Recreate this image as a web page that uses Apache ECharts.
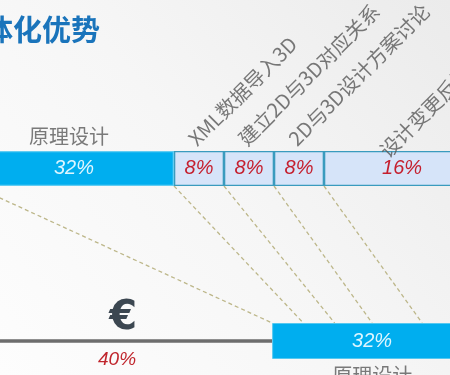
<!DOCTYPE html>
<html><head><meta charset="utf-8">
<script src="https://cdn.jsdelivr.net/npm/echarts@6/dist/echarts.min.js"></script>
<style>html,body{margin:0;padding:0;width:450px;height:375px;overflow:hidden;}#c{width:450px;height:375px;}</style>
</head><body><div id="c"></div>
<script>
// ---- data ----
const titleText = '体化优势';
const topTasks = ['原理设计', 'XML数据导入3D', '建立2D与3D对应关系', '2D与3D设计方案讨论', '设计变更反馈'];
const topPct = [32, 8, 8, 8, 16];
const topSpan = [32, 8, 8, 8, 25];          // drawn lengths on the schematic scale
const bottomTasks = ['€', '原理设计'];
const bottomPct = [40, 32];
const bottomSpan = [47.7, 32];              // drawn lengths on the schematic scale
const anchorOffsets = [0, 5, 10, 16, 24];   // where each connector meets the bottom bar
const rotLabelShift = [0, 0, 0, 0, -17];

// ---- build ----
const xMin = 4.16, xMax = 76.16;
const FONT = '"Noto Sans CJK SC", "Noto Sans", sans-serif';
const NUMFONT = '"Liberation Sans", Arial, sans-serif';
const topStart = [];
let acc = 0;
topSpan.forEach(v => { topStart.push(acc); acc += v; });

const grids = [
  { left: 0, right: 0, top: 151, height: 35 },
  { left: 0, right: 0, top: 323, height: 36 },
  { left: 0, right: 0, top: 339, height: 4 },
  { left: 0, right: 0, top: 186, height: 137 }
];
const xAxes = grids.map((g, i) => ({ gridIndex: i, type: 'value', min: xMin, max: xMax, show: false }));
const yAxes = [0, 1, 2].map(i => ({ gridIndex: i, type: 'category', data: ['r'], show: false }));
yAxes.push({ gridIndex: 3, type: 'value', min: 0, max: 1, show: false });

const series = [];
// connectors
topStart.forEach((s, i) => {
  series.push({
    type: 'line', xAxisIndex: 3, yAxisIndex: 3, symbol: 'none', silent: true, z: 1,
    data: [[s, 1], [bottomSpan[0] + anchorOffsets[i], 0]],
    lineStyle: { color: '#bdb78a', width: 1.3, type: [4, 3] }
  });
});
// top stacked bar
topSpan.forEach((v, i) => {
  const main = i === 0;
  series.push({
    type: 'bar', xAxisIndex: 0, yAxisIndex: 0, stack: 'top', barWidth: 35, z: 3, clip: false,
    data: [v],
    itemStyle: { color: main ? '#00aeef' : '#d6e4f9', borderColor: main ? '#63cdf2' : '#3a9bbe', borderWidth: 1.3 },
    label: { show: true, position: 'inside', formatter: topPct[i] + '%', fontFamily: NUMFONT, fontStyle: 'italic',
      fontSize: 20, color: main ? '#def6ff' : '#c51f2e' }
  });
});
// top task names
series.push({
  type: 'scatter', xAxisIndex: 0, yAxisIndex: 0, symbolSize: 1, itemStyle: { color: 'rgba(0,0,0,0)' }, z: 4, clip: false,
  data: [[topStart[0] + topSpan[0] / 2, 'r']],
  label: { show: true, position: 'top', distance: 22, offset: [-5, 0], formatter: topTasks[0],
    fontFamily: FONT, fontSize: 20, color: '#5a5a5a' }
});
series.push({
  type: 'scatter', xAxisIndex: 0, yAxisIndex: 0, symbolSize: 1, itemStyle: { color: 'rgba(0,0,0,0)' }, z: 4, clip: false,
  data: topTasks.slice(1).map((t, k) => ({
    value: [topStart[k + 1] + topSpan[k + 1] / 2, 'r'],
    label: { offset: [rotLabelShift[k + 1], 0] }
  })),
  label: { show: true, position: 'top', distance: 19, rotate: 45, align: 'left', verticalAlign: 'bottom',
    formatter: p => topTasks[p.dataIndex + 1], fontFamily: FONT, fontSize: 20, color: '#585858' }
});
// bottom bar
series.push({
  type: 'bar', xAxisIndex: 1, yAxisIndex: 1, stack: 'bot', barWidth: 36, z: 3, clip: false,
  data: [bottomSpan[0]], itemStyle: { color: 'rgba(0,0,0,0)' },
  label: { show: true, position: 'inside', offset: [0, -22], formatter: bottomTasks[0],
    fontFamily: '"DejaVu Sans", sans-serif', fontWeight: 'bold', fontSize: 40, color: '#3c4751' }
});
series.push({
  type: 'bar', xAxisIndex: 1, yAxisIndex: 1, stack: 'bot', barWidth: 36, z: 3, clip: false,
  data: [bottomSpan[1]], itemStyle: { color: '#00aeef', borderColor: '#55c8f0', borderWidth: 1 },
  label: { show: true, position: 'inside', formatter: bottomPct[1] + '%', fontFamily: NUMFONT, fontStyle: 'italic',
    fontSize: 20, color: '#def6ff' }
});
series.push({
  type: 'scatter', xAxisIndex: 1, yAxisIndex: 1, symbolSize: 1, itemStyle: { color: 'rgba(0,0,0,0)' }, z: 4, clip: false,
  data: [[bottomSpan[0] + bottomSpan[1] / 2, 'r']],
  label: { show: true, position: 'bottom', distance: 24, formatter: bottomTasks[1],
    fontFamily: FONT, fontSize: 20, color: '#5a5a5a' }
});
// gray line (40%)
series.push({
  type: 'bar', xAxisIndex: 2, yAxisIndex: 2, barWidth: 3.5, z: 2, clip: false,
  data: [bottomSpan[0]], itemStyle: { color: '#6d6d6d' },
  label: { show: true, position: 'bottom', distance: 7, offset: [-6, 0], formatter: bottomPct[0] + '%',
    fontFamily: NUMFONT, fontStyle: 'italic', fontSize: 19, color: '#c0262d' }
});

const chart = echarts.init(document.getElementById('c'), null, { renderer: 'canvas' });
chart.setOption({
  animation: false,
  backgroundColor: { type: 'linear', x: 1, y: 0, x2: 0, y2: 1,
    colorStops: [{ offset: 0, color: '#ebebeb' }, { offset: 0.5, color: '#f6f6f6' }, { offset: 1, color: '#fdfdfd' }] },
  title: { text: titleText, left: -21, top: 10,
    textStyle: { fontFamily: FONT, fontSize: 29, fontWeight: 'bold', color: '#1a74bb' } },
  grid: grids, xAxis: xAxes, yAxis: yAxes, series: series
});
</script></body></html>
